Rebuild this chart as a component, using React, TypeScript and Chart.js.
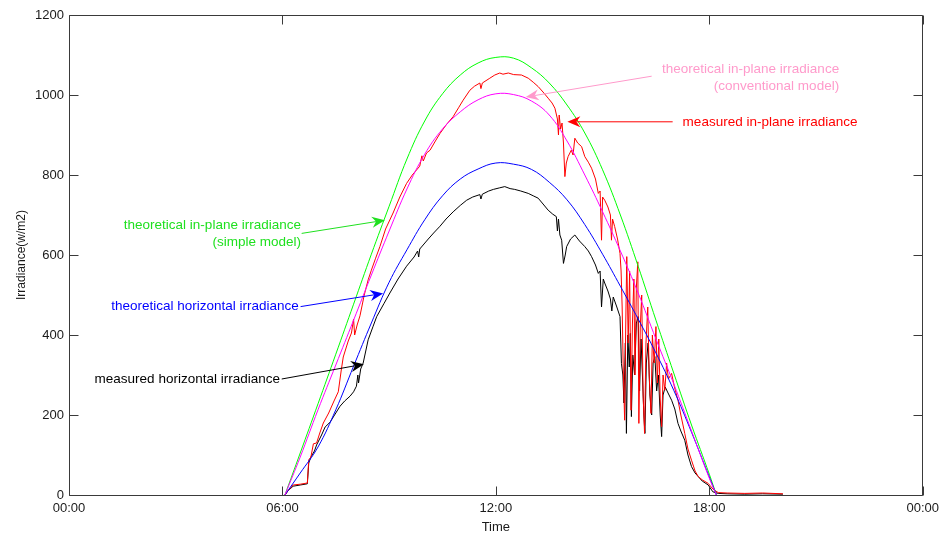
import { useEffect, useRef } from 'react';
import { Chart, registerables } from 'chart.js';

Chart.register(...registerables);

// ---------- data (hours of day, W/m2) ----------
const theoryTimes = [6.07, 6.5, 7, 7.5, 8, 8.5, 9, 9.5, 10, 10.5, 11, 11.5, 12, 12.5, 13, 13.5, 14, 14.5, 15, 15.5, 16, 16.5, 17, 17.5, 18, 18.2];
const simpleModel = [0, 105, 228, 352, 477, 602, 722, 840, 935, 1003, 1050, 1080, 1094, 1092, 1068, 1030, 975, 905, 813, 700, 572, 437, 305, 175, 52, 0];
const conventionalModel = [0, 95, 213, 325, 437, 550, 660, 765, 852, 915, 958, 988, 1003, 1001, 985, 950, 885, 800, 708, 610, 505, 390, 278, 160, 42, 0];
const theoreticalHorizontal = [0, 55, 120, 213, 322, 430, 532, 613, 688, 748, 790, 815, 830, 827, 814, 782, 738, 676, 602, 522, 440, 355, 262, 157, 45, 0];

const inPlaneTimes = [6.07, 6.15, 6.3, 6.5, 6.7, 6.74, 6.8, 6.87, 6.96, 7.05, 7.15, 7.3, 7.45, 7.57, 7.65, 7.71, 7.85, 7.94, 8.0, 8.03, 8.1, 8.18, 8.3, 8.41, 8.5, 8.62, 8.74, 8.9, 9.11, 9.3, 9.49, 9.65, 9.86, 9.92, 9.96, 10.05, 10.15, 10.3, 10.43, 10.6, 10.8, 10.95, 11.08, 11.27, 11.4, 11.55, 11.58, 11.62, 11.83, 11.97, 12.11, 12.2, 12.35, 12.5, 12.72, 12.91, 13.05, 13.19, 13.35, 13.47, 13.58, 13.66, 13.73, 13.76, 13.78, 13.82, 13.86, 13.9, 13.94, 13.98, 14.03, 14.12, 14.17, 14.22, 14.3, 14.41, 14.5, 14.6, 14.69, 14.8, 14.88, 14.93, 14.97, 15.0, 15.06, 15.15, 15.22, 15.25, 15.28, 15.34, 15.42, 15.49, 15.52, 15.55, 15.58, 15.62, 15.65, 15.68, 15.72, 15.76, 15.8, 15.84, 15.88, 15.91, 15.95, 15.99, 16.02, 16.06, 16.1, 16.14, 16.18, 16.22, 16.27, 16.31, 16.36, 16.4, 16.45, 16.5, 16.54, 16.58, 16.62, 16.66, 16.7, 16.75, 16.8, 16.85, 16.94, 17.02, 17.12, 17.2, 17.31, 17.4, 17.5, 17.6, 17.69, 17.8, 17.97, 18.1, 18.25, 18.5, 19.0, 19.5, 20.07];
const inPlaneValues = [0, 10, 25, 27, 30, 88, 95, 128, 130, 155, 180, 205, 235, 258, 310, 345, 385, 405, 440, 400, 425, 448, 500, 538, 562, 592, 621, 665, 705, 745, 779, 800, 822, 848, 835, 855, 862, 885, 904, 925, 946, 968, 987, 1012, 1022, 1030, 1016, 1030, 1042, 1050, 1055, 1052, 1055, 1051, 1050, 1042, 1032, 1021, 1005, 992, 980, 967, 940, 900, 950, 915, 930, 880, 796, 830, 846, 862, 850, 892, 880, 871, 846, 832, 817, 790, 754, 760, 637, 745, 737, 720, 700, 637, 690, 671, 640, 604, 560, 470, 320, 187, 420, 596, 380, 560, 212, 430, 540, 300, 520, 583, 179, 420, 500, 250, 154, 380, 470, 300, 204, 400, 330, 421, 280, 390, 240, 171, 300, 262, 330, 290, 304, 270, 237, 200, 154, 115, 87, 60, 46, 38, 29, 15, 6, 5, 4, 5, 3];

const horizontalTimes = [6.07, 6.15, 6.3, 6.5, 6.7, 6.74, 6.8, 6.9, 6.96, 7.1, 7.2, 7.34, 7.5, 7.62, 7.75, 7.9, 8.0, 8.08, 8.12, 8.14, 8.2, 8.27, 8.41, 8.55, 8.65, 8.85, 9.02, 9.25, 9.49, 9.7, 9.8, 9.83, 9.86, 10.1, 10.25, 10.43, 10.6, 10.8, 11.0, 11.18, 11.35, 11.55, 11.58, 11.62, 11.8, 11.93, 12.11, 12.25, 12.4, 12.53, 12.7, 12.91, 13.05, 13.19, 13.35, 13.47, 13.6, 13.7, 13.73, 13.76, 13.8, 13.85, 13.9, 13.95, 13.99, 14.1, 14.22, 14.35, 14.5, 14.6, 14.69, 14.8, 14.88, 14.93, 14.97, 15.02, 15.06, 15.15, 15.22, 15.26, 15.3, 15.4, 15.49, 15.53, 15.57, 15.6, 15.64, 15.67, 15.71, 15.75, 15.78, 15.81, 15.85, 15.9, 15.95, 16.0, 16.04, 16.08, 16.12, 16.16, 16.19, 16.23, 16.28, 16.33, 16.38, 16.42, 16.47, 16.52, 16.57, 16.62, 16.66, 16.7, 16.76, 16.84, 16.94, 17.03, 17.12, 17.2, 17.31, 17.4, 17.5, 17.6, 17.69, 17.8, 17.97, 18.1, 18.25, 18.5, 19.0, 19.5, 20.07];
const horizontalValues = [0, 10, 22, 25, 28, 80, 95, 110, 125, 150, 170, 182, 205, 222, 235, 247, 258, 272, 300, 280, 315, 330, 388, 422, 446, 478, 505, 540, 572, 595, 610, 595, 615, 640, 655, 672, 690, 708, 724, 737, 745, 751, 740, 752, 760, 764, 768, 771, 766, 764, 760, 754, 748, 742, 725, 712, 702, 696, 660, 690, 650, 637, 579, 600, 621, 640, 650, 635, 621, 610, 596, 575, 554, 560, 470, 540, 530, 510, 490, 460, 495, 470, 446, 329, 300, 230, 380, 154, 400, 320, 404, 196, 350, 300, 430, 446, 260, 390, 300, 200, 154, 330, 380, 250, 200, 330, 346, 260, 300, 200, 146, 250, 270, 255, 237, 215, 179, 160, 137, 100, 71, 55, 46, 35, 25, 8, 4, 3, 2, 3, 2];

const xTickHours = [0, 6, 12, 18, 24];
const xTickLabels = ['00:00', '06:00', '12:00', '18:00', '00:00'];
const yTickValues = [0, 200, 400, 600, 800, 1000, 1200];

// annotations: text lines + arrow (tail -> tip) in data units (hours, W/m2)
const annotations = [
  { lines: ['theoretical in-plane irradiance', '(conventional model)'], color: '#ff9acb', align: 'right', at: [21.65, 1065], tail: [16.38, 1047], tip: [12.84, 995] },
  { lines: ['measured in-plane irradiance'], color: '#ff0000', align: 'left', at: [17.25, 933], tail: [16.97, 933], tip: [14.01, 933] },
  { lines: ['theoretical in-plane irradiance', '(simple model)'], color: '#1fe01f', align: 'right', at: [6.52, 675], tail: [6.54, 654], tip: [8.88, 687] },
  { lines: ['theoretical horizontal irradiance'], color: '#0000ff', align: 'right', at: [6.46, 471], tail: [6.51, 471], tip: [8.83, 504] },
  { lines: ['measured horizontal irradiance'], color: '#000000', align: 'right', at: [5.93, 290], tail: [5.98, 290], tip: [8.29, 327] },
];

const FONT = 'Arial, "Liberation Sans", sans-serif';

function pts(xs: number[], ys: number[]) {
  return xs.map((x, i) => ({ x, y: ys[i] }));
}

function drawArrow(ctx: CanvasRenderingContext2D, x1: number, y1: number, x2: number, y2: number, color: string) {
  const a = Math.atan2(y2 - y1, x2 - x1);
  const c = Math.cos(a), s = Math.sin(a);
  const len = 13, hw = 5.5, notch = 9;
  ctx.strokeStyle = color;
  ctx.fillStyle = color;
  ctx.lineWidth = 1;
  ctx.beginPath();
  ctx.moveTo(x1, y1);
  ctx.lineTo(x2 - notch * c, y2 - notch * s);
  ctx.stroke();
  const bx = x2 - len * c, by = y2 - len * s;
  ctx.beginPath();
  ctx.moveTo(x2, y2);
  ctx.lineTo(bx - hw * s, by + hw * c);
  ctx.lineTo(x2 - notch * c, y2 - notch * s);
  ctx.lineTo(bx + hw * s, by - hw * c);
  ctx.closePath();
  ctx.fill();
}

const framePlugin = {
  id: 'matlabFrame',
  afterDatasetsDraw(chart: any) {
    const { ctx, chartArea, scales } = chart;
    const { left, top, right, bottom } = chartArea;
    const L = Math.round(left) + 0.5, R = Math.round(right) - 0.5;
    const T = Math.round(top) + 0.5, B = Math.round(bottom) + 0.5;
    ctx.save();
    ctx.strokeStyle = '#3a3a3a';
    ctx.lineWidth = 1;
    ctx.beginPath();
    ctx.rect(L, T, R - L, B - T);
    const tl = 9;
    xTickHours.forEach((h) => {
      const px = Math.round(scales.x.getPixelForValue(h)) + 0.5;
      ctx.moveTo(px, B); ctx.lineTo(px, B - tl);
      ctx.moveTo(px, T); ctx.lineTo(px, T + tl);
    });
    yTickValues.forEach((v) => {
      const py = Math.round(scales.y.getPixelForValue(v)) + 0.5;
      ctx.moveTo(L, py); ctx.lineTo(L + tl, py);
      ctx.moveTo(R, py); ctx.lineTo(R - tl, py);
    });
    ctx.stroke();

    // annotations
    ctx.font = `13.5px ${FONT}`;
    ctx.textBaseline = 'middle';
    annotations.forEach((an) => {
      const tx = scales.x.getPixelForValue(an.at[0]);
      const ty = scales.y.getPixelForValue(an.at[1]);
      ctx.fillStyle = an.color;
      ctx.textAlign = an.align as CanvasTextAlign;
      an.lines.forEach((line, i) => ctx.fillText(line, tx, ty + i * 17));
      drawArrow(
        ctx,
        scales.x.getPixelForValue(an.tail[0]), scales.y.getPixelForValue(an.tail[1]),
        scales.x.getPixelForValue(an.tip[0]), scales.y.getPixelForValue(an.tip[1]),
        an.color
      );
    });
    ctx.restore();
  },
};

export default function App() {
  const ref = useRef<HTMLCanvasElement | null>(null);
  useEffect(() => {
    if (!ref.current) return;
    const line = (label: string, data: any[], color: string, smooth: boolean) => ({
      label, data, borderColor: color, backgroundColor: color, borderWidth: 1,
      pointRadius: 0, tension: smooth ? 0.4 : 0, fill: false,
    });
    const chart = new Chart(ref.current, {
      type: 'line',
      data: {
        datasets: [
          line('theoretical in-plane irradiance (conventional model)', pts(theoryTimes, conventionalModel), '#ff00ff', true),
          line('theoretical horizontal irradiance', pts(theoryTimes, theoreticalHorizontal), '#0000ff', true),
          line('theoretical in-plane irradiance (simple model)', pts(theoryTimes, simpleModel), '#00ff00', true),
          line('measured in-plane irradiance', pts(inPlaneTimes, inPlaneValues), '#ff0000', false),
          line('measured horizontal irradiance', pts(horizontalTimes, horizontalValues), '#000000', false),
        ],
      },
      options: {
        animation: false,
        responsive: false,
        devicePixelRatio: 1,
        parsing: false as any,
        normalized: true,
        layout: { padding: { left: 0, top: 15, right: 22, bottom: 0 } },
        plugins: { legend: { display: false }, tooltip: { enabled: false } },
        scales: {
          x: {
            type: 'linear', min: 0, max: 24,
            grid: { display: false, drawTicks: false },
            border: { display: false },
            afterBuildTicks: (scale: any) => { scale.ticks = xTickHours.map((v) => ({ value: v })); },
            afterFit: (scale: any) => { scale.height = 40; },
            ticks: {
              autoSkip: false, maxRotation: 0, padding: 6, color: '#1a1a1a',
              font: { family: FONT, size: 13 },
              callback: (v: any) => xTickLabels[xTickHours.indexOf(Number(v))] ?? '',
            },
            title: { display: true, text: 'Time', color: '#1a1a1a', font: { family: FONT, size: 13 }, padding: { top: 0, bottom: 0 } },
          },
          y: {
            type: 'linear', min: 0, max: 1200,
            grid: { display: false, drawTicks: false },
            border: { display: false },
            afterBuildTicks: (scale: any) => { scale.ticks = yTickValues.map((v) => ({ value: v })); },
            afterFit: (scale: any) => { scale.width = 69; },
            ticks: { padding: 5, color: '#1a1a1a', font: { family: FONT, size: 13 }, callback: (v: any) => String(v) },
            title: { display: true, text: 'Irradiance(w/m2)', color: '#1a1a1a', font: { family: FONT, size: 12 }, padding: { top: 14, bottom: 0 } },
          },
        },
      },
      plugins: [framePlugin],
    } as any);
    return () => chart.destroy();
  }, []);
  return (
    <div style={{ position: 'absolute', left: 0, top: 0, width: 945, height: 535, background: '#fff' }}>
      <canvas ref={ref} width={945} height={535} style={{ display: 'block' }} />
    </div>
  );
}
